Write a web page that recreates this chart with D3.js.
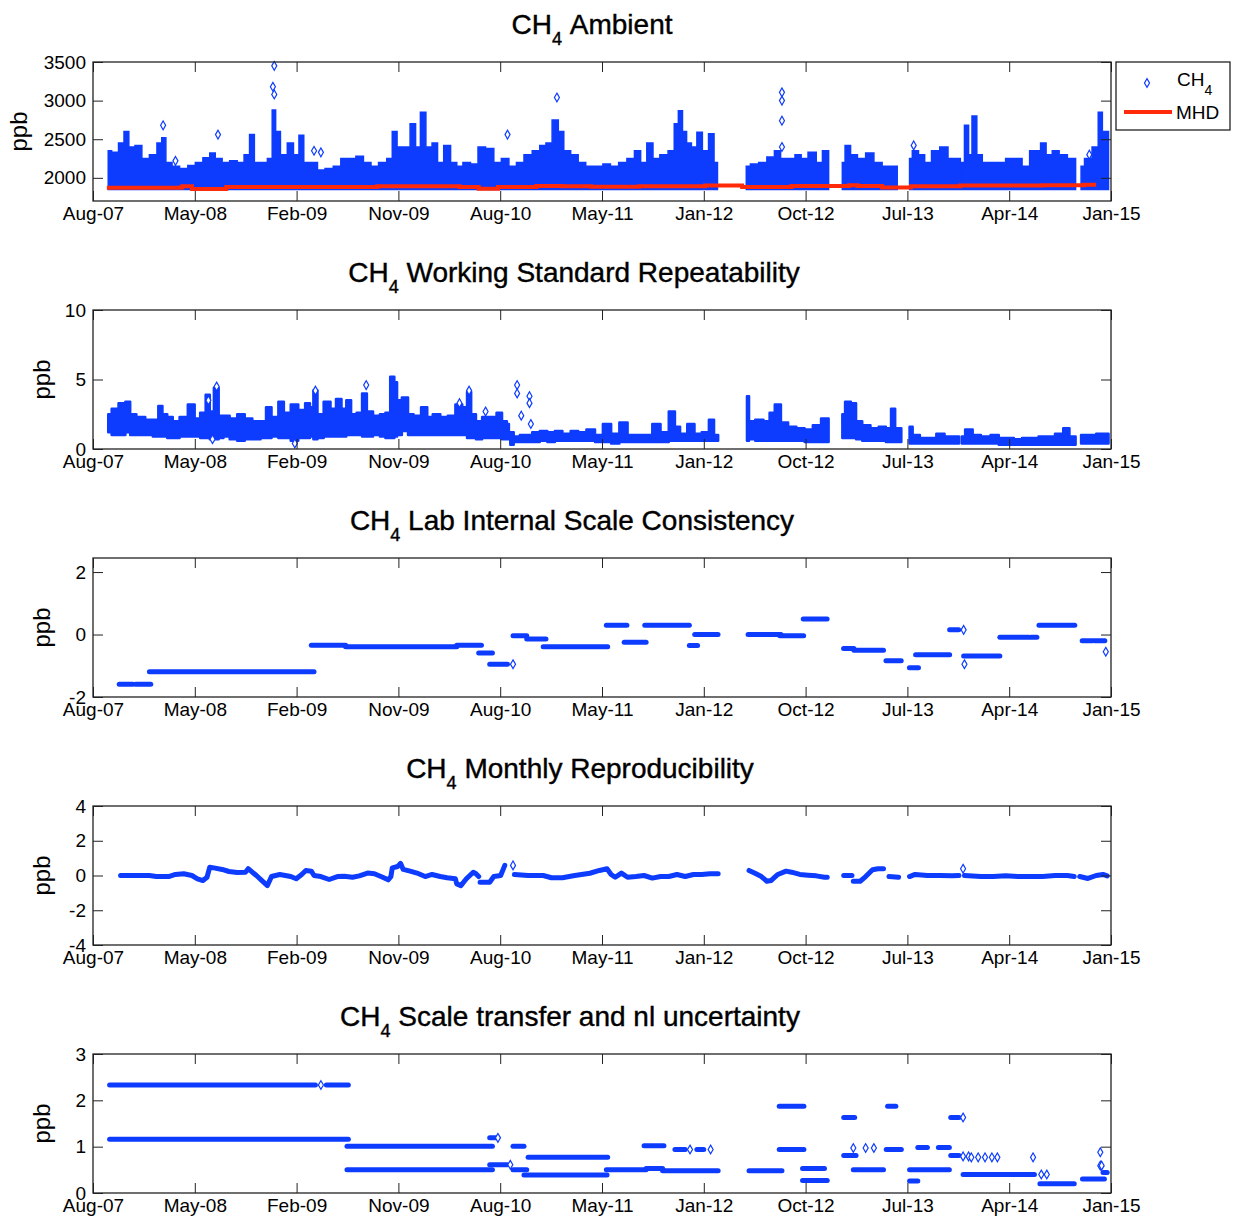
<!DOCTYPE html>
<html>
<head>
<meta charset="utf-8">
<script src="https://cdn.jsdelivr.net/npm/d3@7"></script>
<style>
  body { margin: 0; background: #fff; }
  svg { display: block; font-family: "Liberation Sans", Arial, Helvetica, sans-serif; }
</style>
</head>
<body>
<svg id="chart" width="1235" height="1219"></svg>
<script>
(() => {
'use strict';

// x axis: decimal years, 10 equal tick steps (MATLAB datenum ticks)
const xDomain = [2007.619, 2015.038];
const xTickLabels = ['Aug-07', 'May-08', 'Feb-09', 'Nov-09', 'Aug-10', 'May-11',
  'Jan-12', 'Oct-12', 'Jul-13', 'Apr-14', 'Jan-15'];

const panelTitles = ['Ambient', 'Working Standard Repeatability', 'Lab Internal Scale Consistency',
  'Monthly Reproducibility', 'Scale transfer and nl uncertainty'];
const yDomains = [[1700, 3500], [0, 10], [-2, 2.45], [-4, 4], [0, 3]];
const yTickValues = [[2000, 2500, 3000, 3500], [0, 5, 10], [-2, 0, 2], [-4, -2, 0, 2, 4], [0, 1, 2, 3]];

// panel 1: upper envelope of the dense CH4 points [year, ppb], one array per data block
const ambientSegments = [
  [[2007.73, 2350], [2007.78, 2330], [2007.83, 2450], [2007.86, 2600], [2007.90, 2400], [2007.95, 2420],
   [2008.00, 2250], [2008.06, 2300], [2008.11, 2450], [2008.13, 2520], [2008.17, 2200], [2008.22, 2150],
   [2008.28, 2120], [2008.34, 2160], [2008.39, 2200], [2008.45, 2260], [2008.49, 2320], [2008.53, 2250],
   [2008.59, 2200], [2008.64, 2220], [2008.70, 2200], [2008.74, 2300], [2008.78, 2560], [2008.81, 2200],
   [2008.87, 2200], [2008.91, 2250], [2008.94, 2880], [2008.96, 2600], [2009.01, 2300], [2009.06, 2450],
   [2009.10, 2300], [2009.14, 2550], [2009.17, 2200], [2009.23, 2200], [2009.28, 2100], [2009.34, 2120],
   [2009.40, 2150], [2009.45, 2250], [2009.51, 2250], [2009.56, 2280], [2009.62, 2200], [2009.67, 2150],
   [2009.73, 2200], [2009.79, 2250], [2009.81, 2600], [2009.86, 2400], [2009.91, 2400], [2009.95, 2700],
   [2009.99, 2400], [2010.02, 2850], [2010.07, 2400], [2010.11, 2450], [2010.15, 2200], [2010.20, 2420],
   [2010.25, 2200], [2010.29, 2150], [2010.34, 2200], [2010.40, 2180], [2010.45, 2400], [2010.51, 2380],
   [2010.57, 2200], [2010.62, 2250], [2010.68, 2150], [2010.73, 2200], [2010.79, 2300], [2010.85, 2350],
   [2010.90, 2420], [2010.94, 2450], [2010.99, 2750], [2011.03, 2600], [2011.07, 2350], [2011.13, 2300],
   [2011.18, 2200], [2011.24, 2150], [2011.31, 2150], [2011.36, 2180], [2011.42, 2150], [2011.48, 2200],
   [2011.54, 2250], [2011.59, 2350], [2011.63, 2200], [2011.68, 2450], [2011.72, 2250], [2011.78, 2300],
   [2011.84, 2350], [2011.87, 2700], [2011.90, 2870], [2011.93, 2600], [2011.96, 2450], [2012.00, 2400],
   [2012.04, 2590], [2012.08, 2350], [2012.13, 2570], [2012.16, 2200], [2012.17, 2200]],
  [[2012.38, 2150], [2012.44, 2180], [2012.50, 2200], [2012.56, 2270], [2012.61, 2350], [2012.65, 2250],
   [2012.71, 2250], [2012.76, 2300], [2012.80, 2250], [2012.86, 2330], [2012.92, 2200], [2012.95, 2350],
   [2012.98, 2350]],
  [[2013.08, 2200], [2013.12, 2420], [2013.16, 2300], [2013.22, 2250], [2013.28, 2320], [2013.34, 2200],
   [2013.40, 2150], [2013.48, 2150]],
  [[2013.57, 2250], [2013.61, 2350], [2013.66, 2300], [2013.70, 2200], [2013.76, 2350], [2013.82, 2400],
   [2013.88, 2250], [2013.94, 2250]],
  [[2013.95, 2200], [2013.99, 2680], [2014.01, 2300], [2014.04, 2800], [2014.08, 2300], [2014.12, 2200],
   [2014.18, 2200], [2014.24, 2200], [2014.30, 2250], [2014.36, 2250], [2014.42, 2150], [2014.47, 2350],
   [2014.51, 2350], [2014.54, 2450], [2014.59, 2300], [2014.63, 2350], [2014.69, 2300], [2014.75, 2250],
   [2014.78, 2250]],
  [[2014.82, 2150], [2014.87, 2250], [2014.93, 2400], [2014.96, 2850], [2014.99, 2600], [2015.02, 2600]]
];
const ambientBase = 1850;
const ambientOutliers = [[2008.94, 3450], [2008.93, 3180], [2008.94, 3080], [2011.00, 3040], [2008.53, 2560],
  [2008.13, 2680], [2009.23, 2350], [2010.64, 2560], [2012.64, 3107], [2012.64, 3000], [2012.64, 2740],
  [2012.64, 2400], [2013.60, 2420], [2014.88, 2300], [2008.22, 2220], [2009.28, 2330]];
// MHD background, step values [year, ppb]
const mhdLine = [[2007.72, 1871], [2008.25, 1875], [2008.27, 1890], [2008.34, 1855], [2008.59, 1880],
  [2009.69, 1890], [2010.29, 1880], [2010.43, 1860], [2010.57, 1880], [2010.85, 1895], [2011.04, 1890],
  [2011.25, 1884], [2011.60, 1890], [2012.08, 1900], [2012.35, 1880], [2012.71, 1895], [2013.13, 1905],
  [2013.19, 1895], [2013.37, 1875], [2013.58, 1890], [2013.94, 1900], [2014.48, 1900], [2014.54, 1905],
  [2014.84, 1910], [2014.93, 1910]];

// panel 2: [year, low, high] envelopes of repeatability points
const repeatSegments = [
  [[2007.73, 1.2, 2.5], [2007.78, 1.0, 2.9], [2007.83, 1.0, 3.3], [2007.88, 1.2, 3.4], [2007.90, 1.0, 2.5],
   [2007.97, 1.0, 2.3], [2008.03, 1.0, 2.1], [2008.08, 0.9, 2.1], [2008.11, 0.9, 3.1], [2008.14, 0.9, 2.5],
   [2008.18, 0.8, 2.3], [2008.22, 0.8, 2.0], [2008.28, 0.9, 2.3], [2008.34, 0.9, 3.2], [2008.38, 0.9, 2.2],
   [2008.42, 0.8, 2.6], [2008.46, 0.8, 3.9], [2008.48, 0.7, 2.7], [2008.52, 0.7, 4.4], [2008.55, 0.8, 2.4],
   [2008.59, 0.9, 2.4], [2008.64, 0.7, 2.2], [2008.70, 0.6, 2.5], [2008.75, 0.7, 2.2], [2008.81, 0.7, 2.0],
   [2008.87, 0.8, 2.0], [2008.89, 0.8, 3.0], [2008.95, 0.9, 2.3], [2008.99, 0.8, 3.4], [2009.03, 0.8, 2.6],
   [2009.09, 0.6, 3.2], [2009.14, 0.8, 2.8], [2009.19, 0.8, 3.3], [2009.21, 0.9, 3.0], [2009.24, 0.7, 4.2],
   [2009.27, 0.8, 2.5], [2009.33, 0.9, 3.4], [2009.37, 0.9, 2.9], [2009.41, 0.9, 3.6], [2009.45, 0.9, 2.9],
   [2009.48, 1.0, 3.5], [2009.52, 1.0, 2.5], [2009.56, 1.0, 2.6], [2009.60, 0.9, 4.0], [2009.63, 0.9, 2.7],
   [2009.69, 1.0, 2.4], [2009.73, 0.9, 2.5], [2009.77, 0.8, 2.6], [2009.80, 0.8, 5.2], [2009.83, 0.9, 4.8],
   [2009.84, 1.0, 3.5], [2009.90, 1.3, 3.7], [2009.93, 1.0, 2.5], [2009.98, 1.0, 2.4], [2010.04, 1.0, 3.0],
   [2010.07, 1.0, 2.3], [2010.12, 1.0, 2.5], [2010.18, 1.0, 2.3], [2010.23, 1.0, 2.4], [2010.29, 1.0, 3.2],
   [2010.33, 1.0, 3.0], [2010.36, 0.8, 4.1], [2010.39, 0.8, 2.5], [2010.43, 0.7, 2.0], [2010.48, 0.8, 2.3],
   [2010.54, 0.8, 2.3], [2010.58, 0.8, 2.6], [2010.62, 0.7, 2.0], [2010.65, 0.7, 1.8]],
  [[2010.66, 0.3, 1.2], [2010.71, 0.5, 0.9], [2010.75, 0.5, 1.0], [2010.79, 0.5, 1.0], [2010.85, 0.5, 1.2],
   [2010.90, 0.6, 1.3], [2010.96, 0.5, 1.2], [2011.01, 0.6, 1.3], [2011.07, 0.6, 1.1], [2011.13, 0.6, 1.3],
   [2011.18, 0.6, 1.2], [2011.25, 0.6, 1.4], [2011.305, 0.5, 1.0], [2011.365, 0.5, 1.8], [2011.425, 0.4, 1.1],
   [2011.485, 0.5, 1.9], [2011.545, 0.5, 1.0], [2011.605, 0.5, 1.0], [2011.665, 0.5, 1.0], [2011.725, 0.5, 1.8],
   [2011.785, 0.5, 1.2], [2011.845, 0.6, 2.7], [2011.875, 0.6, 1.6], [2011.92, 0.6, 1.1], [2011.98, 0.6, 1.8],
   [2012.025, 0.6, 1.1], [2012.085, 0.6, 1.2], [2012.13, 0.6, 2.1], [2012.16, 0.6, 1.0], [2012.175, 0.6, 1.0]],
  [[2012.385, 0.6, 3.8], [2012.415, 0.7, 2.0], [2012.475, 0.6, 2.1], [2012.535, 0.6, 2.0], [2012.565, 0.6, 2.6],
   [2012.61, 0.6, 3.2], [2012.655, 0.6, 1.9], [2012.715, 0.6, 1.6], [2012.775, 0.6, 1.5], [2012.835, 0.5, 1.4],
   [2012.895, 0.5, 1.7], [2012.955, 0.5, 2.2], [2012.98, 0.5, 2.2]],
  [[2013.08, 0.8, 2.5], [2013.12, 0.8, 3.4], [2013.165, 0.8, 3.3], [2013.195, 0.7, 2.0], [2013.255, 0.6, 1.7],
   [2013.315, 0.6, 1.5], [2013.375, 0.6, 1.6], [2013.42, 0.5, 1.5], [2013.45, 0.5, 2.9], [2013.48, 0.5, 1.5],
   [2013.51, 0.5, 1.5]],
  [[2013.57, 0.4, 1.6], [2013.615, 0.4, 1.0], [2013.675, 0.4, 0.8], [2013.735, 0.4, 0.8], [2013.795, 0.4, 1.1],
   [2013.855, 0.4, 0.9], [2013.93, 0.4, 0.9]],
  [[2013.95, 0.4, 0.9], [2014.00, 0.4, 1.4], [2014.06, 0.4, 1.0], [2014.12, 0.4, 0.9], [2014.20, 0.4, 1.0],
   [2014.24, 0.3, 0.8], [2014.30, 0.3, 0.8], [2014.36, 0.3, 0.7], [2014.42, 0.3, 0.8], [2014.48, 0.3, 0.8],
   [2014.54, 0.3, 0.9], [2014.60, 0.3, 0.9], [2014.66, 0.3, 1.1], [2014.72, 0.3, 1.5], [2014.75, 0.3, 0.9],
   [2014.78, 0.3, 0.9]],
  [[2014.82, 0.4, 1.0], [2014.90, 0.4, 1.0], [2014.96, 0.4, 1.1], [2015.02, 0.4, 1.1]]
];
const repeatOutliers = [[2010.71, 4.6], [2010.71, 4.0], [2010.80, 3.8], [2010.80, 3.3], [2010.81, 1.8],
  [2010.74, 2.4], [2008.52, 4.5], [2008.46, 3.5], [2009.24, 4.2], [2009.61, 4.6], [2010.36, 4.2],
  [2010.48, 2.7], [2010.29, 3.3], [2009.09, 0.4], [2008.49, 0.7]];

// panel 3: constant offsets [start year, end year, ppb]
const labSteps = [[2007.81, 2007.91, -1.59], [2007.93, 2008.04, -1.59], [2008.03, 2009.23, -1.19],
  [2009.21, 2009.46, -0.34], [2009.46, 2010.27, -0.39], [2010.27, 2010.45, -0.34], [2010.43, 2010.53, -0.59],
  [2010.51, 2010.64, -0.95], [2010.68, 2010.78, -0.04], [2010.78, 2010.92, -0.14], [2010.90, 2011.37, -0.39],
  [2011.36, 2011.51, 0.30], [2011.49, 2011.65, -0.25], [2011.64, 2011.965, 0.30], [2011.965, 2012.025, -0.35],
  [2012.004, 2012.174, 0.0], [2012.393, 2012.633, 0.0], [2012.624, 2012.798, -0.04], [2012.795, 2012.969, 0.50],
  [2013.089, 2013.164, -0.45], [2013.164, 2013.38, -0.50], [2013.398, 2013.509, -0.84], [2013.569, 2013.635, -1.06],
  [2013.614, 2013.862, -0.65], [2013.862, 2013.928, 0.15], [2013.964, 2014.228, -0.69], [2014.228, 2014.438, -0.09],
  [2014.453, 2014.498, -0.09], [2014.513, 2014.774, 0.30], [2014.828, 2014.903, -0.20], [2014.918, 2014.993, -0.20]];
const labPoints = [[2010.68, -0.95], [2013.964, 0.15], [2013.97, -0.95], [2015.0, -0.55]];

// panel 4: monthly reproducibility traces [year, ppb]
const monthlySegments = [
  [[2007.82, 0.0], [2007.92, 0.0], [2008.03, 0.0], [2008.08, -0.06], [2008.17, -0.06], [2008.22, 0.06],
   [2008.28, 0.10], [2008.34, 0.0], [2008.38, -0.19], [2008.42, -0.29], [2008.45, -0.10], [2008.47, 0.48],
   [2008.50, 0.44], [2008.56, 0.35], [2008.61, 0.23], [2008.67, 0.17], [2008.73, 0.19], [2008.75, 0.39],
   [2008.78, 0.19], [2008.81, 0.0], [2008.85, -0.29], [2008.89, -0.58], [2008.92, -0.06], [2008.98, 0.06],
   [2009.06, -0.06], [2009.10, -0.19], [2009.14, 0.06], [2009.17, 0.29], [2009.21, 0.25], [2009.23, 0.0],
   [2009.28, -0.06], [2009.34, -0.23], [2009.40, -0.06], [2009.45, -0.04], [2009.51, -0.10], [2009.56, -0.02],
   [2009.62, 0.14], [2009.67, 0.10], [2009.73, -0.10], [2009.77, -0.25], [2009.79, -0.06], [2009.80, 0.44],
   [2009.84, 0.52], [2009.86, 0.70], [2009.88, 0.35], [2009.93, 0.25], [2009.98, 0.14], [2010.04, -0.06],
   [2010.09, 0.06], [2010.15, -0.06], [2010.20, -0.13], [2010.26, -0.19], [2010.27, -0.48], [2010.30, -0.58],
   [2010.34, -0.19], [2010.39, 0.19], [2010.41, 0.10], [2010.43, -0.06]],
  [[2010.44, -0.39], [2010.51, -0.39], [2010.54, -0.06], [2010.59, 0.0], [2010.62, 0.58]],
  [[2010.69, 0.06], [2010.79, 0.0], [2010.90, 0.0], [2010.96, -0.13], [2011.04, -0.13], [2011.13, 0.0],
   [2011.24, 0.13], [2011.31, 0.29], [2011.365, 0.39], [2011.395, 0.06], [2011.425, -0.10], [2011.47, 0.14],
   [2011.515, -0.10], [2011.575, -0.06], [2011.635, 0.0], [2011.695, -0.15], [2011.755, -0.06],
   [2011.815, -0.06], [2011.875, 0.06], [2011.935, -0.06], [2011.995, 0.06], [2012.055, 0.06],
   [2012.115, 0.10], [2012.175, 0.10]],
  [[2012.40, 0.29], [2012.44, 0.14], [2012.49, -0.06], [2012.53, -0.33], [2012.56, -0.29], [2012.61, 0.06],
   [2012.67, 0.25], [2012.71, 0.19], [2012.77, 0.06], [2012.83, 0.02], [2012.89, -0.02], [2012.95, -0.10],
   [2012.97, -0.10]],
  [[2013.09, 0.0], [2013.15, 0.0]],
  [[2013.16, -0.33], [2013.21, -0.33], [2013.25, -0.06], [2013.30, 0.33], [2013.34, 0.39], [2013.38, 0.39]],
  [[2013.42, -0.06], [2013.49, -0.10]],
  [[2013.57, -0.06], [2013.61, 0.06], [2013.70, 0.0], [2013.79, 0.0], [2013.88, -0.02], [2013.93, 0.0]],
  [[2013.97, 0.0], [2014.09, -0.06], [2014.18, -0.06], [2014.27, -0.02], [2014.36, -0.06], [2014.45, -0.06],
   [2014.54, -0.06], [2014.63, 0.0], [2014.72, 0.0], [2014.77, -0.06]],
  [[2014.81, -0.06], [2014.87, -0.17], [2014.93, 0.0], [2014.98, 0.06], [2015.01, -0.02]]
];
const monthlyPoints = [[2010.68, 0.58], [2013.96, 0.39]];

// panel 5: scale transfer and non-linearity levels [start year, end year, ppb]
const transferSteps = [[2007.74, 2009.24, 2.33], [2009.32, 2009.48, 2.33], [2007.74, 2009.48, 1.16],
  [2009.47, 2010.53, 1.01], [2009.47, 2010.53, 0.50], [2010.51, 2010.57, 1.19], [2010.51, 2010.64, 0.61],
  [2010.68, 2010.76, 1.01], [2010.68, 2010.78, 0.50], [2010.76, 2011.365, 0.39], [2010.79, 2011.37, 0.77],
  [2011.36, 2011.65, 0.50], [2011.65, 2011.77, 0.53], [2011.635, 2011.78, 1.02], [2011.77, 2012.175, 0.48],
  [2011.86, 2011.935, 0.94], [2012.02, 2012.07, 0.94], [2012.40, 2012.64, 0.48], [2012.62, 2012.80, 1.87],
  [2012.62, 2012.80, 0.94], [2012.79, 2012.97, 0.27], [2012.79, 2012.95, 0.53], [2013.09, 2013.17, 1.63],
  [2013.09, 2013.18, 0.81], [2013.16, 2013.38, 0.50], [2013.41, 2013.47, 1.87], [2013.40, 2013.51, 0.94],
  [2013.57, 2013.63, 0.26], [2013.57, 2013.86, 0.50], [2013.63, 2013.70, 0.98], [2013.78, 2013.86, 0.98],
  [2013.87, 2013.93, 1.63], [2013.87, 2013.93, 0.81], [2013.96, 2014.48, 0.40], [2014.52, 2014.77, 0.20],
  [2014.83, 2014.99, 0.30], [2014.98, 2015.01, 0.44]];
const transferPoints = [[2011.97, 0.94], [2012.12, 0.94], [2013.96, 1.63], [2013.96, 0.79], [2014.00, 0.79],
  [2014.02, 0.77], [2014.07, 0.77], [2014.12, 0.77], [2014.17, 0.77], [2014.21, 0.77], [2014.47, 0.77],
  [2014.53, 0.40], [2014.57, 0.40], [2014.96, 0.88], [2014.96, 0.59], [2014.97, 0.59], [2013.16, 0.97],
  [2013.25, 0.97], [2013.31, 0.97], [2010.66, 0.61], [2010.57, 1.19], [2009.28, 2.33]];

const BLUE = '#0d3cff';
const RED = '#ff2a0a';
const LEFT = 93;
const RIGHT = 1111;
const PANEL_H = 139;
const TOPS = [62, 310, 558, 806, 1054];
const TITLE_X = [592, 574, 572, 580, 570];
const YLABEL_X = [27, 50, 50, 50, 50];
const TICK = 10;

const svg = d3.select('#chart');

const x = d3.scaleLinear().domain(xDomain).range([LEFT, RIGHT]);
const xTicks = xTickLabels.map((d, i) => xDomain[0] + i * (xDomain[1] - xDomain[0]) / (xTickLabels.length - 1));

const diamond = d3.symbol().type(d3.symbolDiamond).size(22);

const drawDiamonds = (g, y, pts) => {
  g.selectAll(null)
    .data(pts)
    .enter()
    .append('path')
      .attr('d', diamond)
      .attr('transform', (d) => `translate(${x(d[0])},${y(d[1])})`)
      .attr('fill', '#fff')
      .attr('stroke', BLUE)
      .attr('stroke-width', 1.2);
};

const drawSteps = (g, y, steps) => {
  g.selectAll(null)
    .data(steps)
    .enter()
    .append('line')
      .attr('x1', (d) => x(d[0]))
      .attr('x2', (d) => x(d[1]))
      .attr('y1', (d) => y(d[2]))
      .attr('y2', (d) => y(d[2]))
      .attr('stroke', BLUE)
      .attr('stroke-width', 5)
      .attr('stroke-linecap', 'round');
};

const panels = [];

panelTitles.forEach((name, i) => {
  const top = TOPS[i];
  const bottom = top + PANEL_H;
  const y = d3.scaleLinear().domain(yDomains[i]).range([bottom, top]);
  const g = svg.append('g');
  const plot = g.append('g');
  panels.push({ g, plot, y, top, bottom });

  // title with subscript 4
  const title = g.append('text')
    .attr('x', TITLE_X[i])
    .attr('y', top - 28)
    .attr('text-anchor', 'middle')
    .style('font-size', '28px')
    .attr('fill', '#000')
    .attr('stroke', '#000')
    .attr('stroke-width', 0.4);
  title.append('tspan').text('CH');
  title.append('tspan').attr('dy', 11).style('font-size', '18px').text('4');
  title.append('tspan').attr('dy', -11).text('\u00a0' + name);

  g.append('text')
    .attr('transform', `translate(${YLABEL_X[i]},${(top + bottom) / 2}) rotate(-90)`)
    .attr('text-anchor', 'middle')
    .style('font-size', '24px')
    .text('ppb');
});

// panel 1
{
  const { plot, y } = panels[0];
  const area = d3.area()
    .x((d) => x(d[0]))
    .y0(y(ambientBase))
    .y1((d) => y(d[1]))
    .curve(d3.curveStep);
  plot.selectAll(null)
    .data(ambientSegments)
    .enter()
    .append('path')
      .attr('d', area)
      .attr('fill', BLUE)
      .attr('stroke', BLUE)
      .attr('stroke-width', 1.5);
  drawDiamonds(plot, y, ambientOutliers);
  const line = d3.line().x((d) => x(d[0])).y((d) => y(d[1])).curve(d3.curveStepAfter);
  plot.append('path')
    .datum(mhdLine)
    .attr('d', line)
    .attr('fill', 'none')
    .attr('stroke', RED)
    .attr('stroke-width', 4);
}

// panel 2
{
  const { plot, y } = panels[1];
  const area = d3.area()
    .x((d) => x(d[0]))
    .y0((d) => y(d[1]))
    .y1((d) => y(d[2]))
    .curve(d3.curveStep);
  plot.selectAll(null)
    .data(repeatSegments)
    .enter()
    .append('path')
      .attr('d', area)
      .attr('fill', BLUE)
      .attr('stroke', BLUE)
      .attr('stroke-width', 2.5)
      .attr('stroke-linejoin', 'round');
  drawDiamonds(plot, y, repeatOutliers);
}

// panel 3
{
  const { plot, y } = panels[2];
  drawSteps(plot, y, labSteps);
  drawDiamonds(plot, y, labPoints);
}

// panel 4
{
  const { plot, y } = panels[3];
  const line = d3.line().x((d) => x(d[0])).y((d) => y(d[1]));
  plot.selectAll(null)
    .data(monthlySegments)
    .enter()
    .append('path')
      .attr('d', line)
      .attr('fill', 'none')
      .attr('stroke', BLUE)
      .attr('stroke-width', 5)
      .attr('stroke-linejoin', 'round')
      .attr('stroke-linecap', 'round');
  drawDiamonds(plot, y, monthlyPoints);
}

// panel 5
{
  const { plot, y } = panels[4];
  drawSteps(plot, y, transferSteps);
  drawDiamonds(plot, y, transferPoints);
}

// axes, box and inward ticks
panels.forEach(({ g, y, top, bottom }, i) => {
  const styleAxis = (sel) => {
    sel.select('.domain').remove();
    sel.selectAll('line').attr('stroke', '#222');
    sel.selectAll('text').style('font-size', '19px').attr('fill', '#000');
  };

  g.append('g')
    .attr('transform', `translate(0,${bottom})`)
    .call(d3.axisBottom(x).tickValues(xTicks).tickFormat((d, k) => xTickLabels[k])
      .tickSizeInner(-TICK).tickSizeOuter(0).tickPadding(6))
    .call(styleAxis);

  g.append('g')
    .attr('transform', `translate(0,${top})`)
    .call(d3.axisTop(x).tickValues(xTicks).tickFormat('').tickSizeInner(-TICK).tickSizeOuter(0))
    .call(styleAxis);

  g.append('g')
    .attr('transform', `translate(${LEFT},0)`)
    .call(d3.axisLeft(y).tickValues(yTickValues[i]).tickFormat((d) => String(d))
      .tickSizeInner(-TICK).tickSizeOuter(0).tickPadding(7))
    .call(styleAxis);

  g.append('g')
    .attr('transform', `translate(${RIGHT},0)`)
    .call(d3.axisRight(y).tickValues(yTickValues[i]).tickFormat('').tickSizeInner(-TICK).tickSizeOuter(0))
    .call(styleAxis);

  g.append('rect')
    .attr('x', LEFT)
    .attr('y', top)
    .attr('width', RIGHT - LEFT)
    .attr('height', bottom - top)
    .attr('fill', 'none')
    .attr('stroke', '#222')
    .attr('stroke-width', 1.3);
});

// legend of panel 1
{
  const lg = svg.append('g');
  lg.append('rect')
    .attr('x', 1116).attr('y', 62).attr('width', 114).attr('height', 68)
    .attr('fill', '#fff').attr('stroke', '#222').attr('stroke-width', 1.3);
  lg.append('path')
    .attr('d', diamond)
    .attr('transform', 'translate(1147,83)')
    .attr('fill', '#fff').attr('stroke', BLUE).attr('stroke-width', 1.2);
  const t = lg.append('text').attr('x', 1177).attr('y', 86).style('font-size', '19px');
  t.append('tspan').text('CH');
  t.append('tspan').attr('dy', 9).style('font-size', '14px').text('4');
  lg.append('line')
    .attr('x1', 1124).attr('x2', 1172).attr('y1', 112).attr('y2', 112)
    .attr('stroke', RED).attr('stroke-width', 4);
  lg.append('text').attr('x', 1176).attr('y', 119).style('font-size', '19px').text('MHD');
}

})();
</script>
</body>
</html>
